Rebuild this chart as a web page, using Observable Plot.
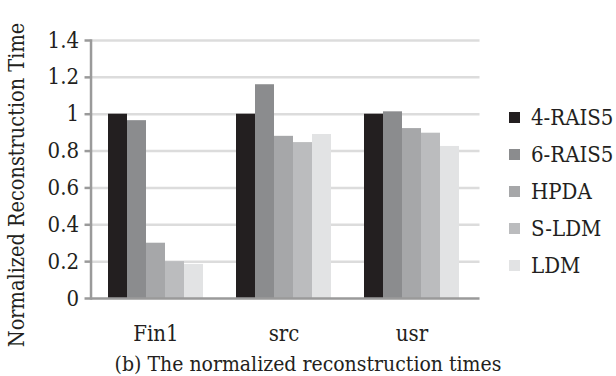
<!DOCTYPE html>
<html>
<head>
<meta charset="utf-8">
<script src="https://cdn.jsdelivr.net/npm/d3@7"></script>
<script src="https://cdn.jsdelivr.net/npm/@observablehq/plot@0.6"></script>
<style>
  html, body { margin: 0; padding: 0; background: #fff; }
  #wrap { position: relative; width: 616px; height: 376px; overflow: hidden;
    font-family: "DejaVu Serif Condensed", "DejaVu Serif", serif; font-stretch: condensed; color: #231f20; }
  #chart { position: absolute; left: 0; top: 0; }
  #legend { position: absolute; left: 509px; top: 99px; }
  .item { height: 37px; display: flex; align-items: center; font-size: 22px; white-space: nowrap; }
  .sw { width: 11px; height: 11px; margin-right: 11px; flex: none; }
  #caption { position: absolute; left: 0; width: 616px; top: 352px; text-align: center; font-size: 21px; white-space: nowrap; }
  #ytitle { position: absolute; left: 17px; top: 185px; width: 0; height: 0; }
  #ytitle span { position: absolute; left: 0; top: 0; transform: translate(-50%, -50%) rotate(-90deg);
    font-size: 21.5px; white-space: nowrap; line-height: 1; }
</style>
</head>
<body>
<div id="wrap">
  <div id="chart"></div>
  <div id="ytitle"><span></span></div>
  <div id="legend"></div>
  <div id="caption"></div>
</div>
<script>
const groups = ["Fin1", "src", "usr"];
const methods = ["4-RAIS5", "6-RAIS5", "HPDA", "S-LDM", "LDM"];
const fin1Values = [1.0, 0.965, 0.30, 0.20, 0.185];
const srcValues = [1.0, 1.16, 0.88, 0.846, 0.89];
const usrValues = [1.0, 1.013, 0.922, 0.897, 0.825];
const colors = ["#231f20", "#8b8c8e", "#a6a7a9", "#bbbcbe", "#e2e3e4"];
const yTicks = [0, 0.2, 0.4, 0.6, 0.8, 1.0, 1.2, 1.4];
const yTickLabels = ["0", "0.2", "0.4", "0.6", "0.8", "1", "1.2", "1.4"];
const yTitle = "Normalized Reconstruction Time";
const caption = "(b) The normalized reconstruction times";

const series = [fin1Values, srcValues, usrValues];
const data = [];
groups.forEach((g, gi) => methods.forEach((m, mi) => data.push({group: g, method: m, value: series[gi][mi]})));

const font = '"DejaVu Serif Condensed", "DejaVu Serif", serif';
const axisGray = "#9a9a9a";
const W = 616, ML = 89, MR = 138;
const frameW = W - ML - MR;
const padInner = 0.223, padOuter = 0.12;
// the leftmost facet starts after the outer padding; shift the axis back to the plot's left edge
const step = frameW / (groups.length - padInner + 2 * padOuter);
const axisShift = -step * padOuter;

const chart = Plot.plot({
  width: W,
  height: 345,
  marginLeft: ML,
  marginRight: MR,
  marginTop: 40,
  marginBottom: 47,
  style: {fontFamily: font, color: "#231f20", background: "transparent", fontStretch: "condensed"},
  fx: {domain: groups, paddingInner: padInner, paddingOuter: padOuter, label: null, axis: null},
  x: {domain: methods, padding: 0, axis: null},
  y: {domain: [0, 1.4], label: null, axis: null},
  color: {domain: methods, range: colors},
  marks: [
    Plot.axisY(yTicks.slice(1), {tickSize: -frameW, dx: axisShift, text: null, stroke: "#dcdcdc", strokeWidth: 2.5, strokeOpacity: 1, label: null}),
    Plot.barY(data, {fx: "group", x: "method", y: "value", fill: "method"}),
    Plot.frame({anchor: "left", facetAnchor: "left", dx: axisShift, stroke: axisGray, strokeWidth: 2.5}),
    Plot.axisY([0], {tickSize: -frameW, dx: axisShift, text: null, stroke: axisGray, strokeWidth: 2.5, strokeOpacity: 1, label: null}),
    Plot.axisY(yTicks, {
      tickFormat: (d) => yTickLabels[yTicks.indexOf(d)],
      dx: axisShift,
      tickSize: 6, tickPadding: 6, stroke: axisGray, strokeWidth: 2.5, strokeOpacity: 1, fontSize: 22, label: null
    }),
    Plot.axisFx({anchor: "bottom", tickSize: 0, tickPadding: 27, fontSize: 22, label: null})
  ]
});
document.getElementById("chart").appendChild(chart);

document.querySelector("#ytitle span").textContent = yTitle;
document.getElementById("caption").textContent = caption;
const legend = document.getElementById("legend");
methods.forEach((m, i) => {
  const row = document.createElement("div");
  row.className = "item";
  const sw = document.createElement("span");
  sw.className = "sw";
  sw.style.background = colors[i];
  const t = document.createElement("span");
  t.textContent = m;
  row.appendChild(sw); row.appendChild(t);
  legend.appendChild(row);
});
</script>
</body>
</html>
